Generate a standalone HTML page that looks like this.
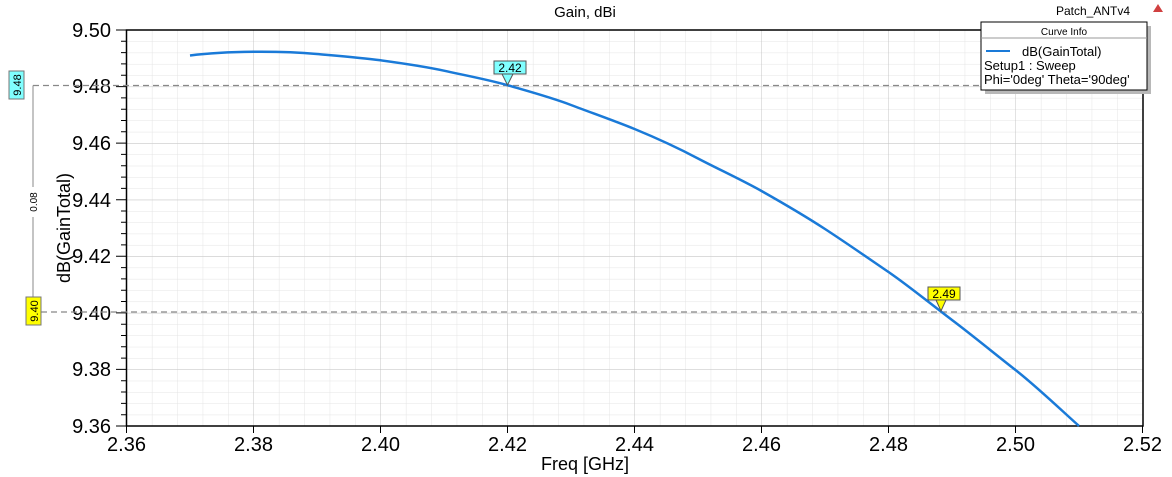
<!DOCTYPE html>
<html><head><meta charset="utf-8"><style>
body{margin:0;background:#fff;}
svg{display:block;font-family:"Liberation Sans",Arial,sans-serif;}
</style></head><body>
<svg width="1172" height="477" viewBox="0 0 1172 477">
<defs>
<pattern id="minor" patternUnits="userSpaceOnUse" x="126.5" y="30" width="25.4" height="11.314">
<path d="M0 0V11.314M0 0H25.4" stroke="#e4e4e4" stroke-width="1" fill="none"/>
</pattern>
<pattern id="major" patternUnits="userSpaceOnUse" x="126.5" y="30" width="127" height="56.571">
<path d="M0 0V56.571M0 0H127" stroke="#c4c4c4" stroke-width="1" fill="none"/>
</pattern>
</defs>
<rect x="126.5" y="30" width="1016.5" height="396" fill="url(#minor)"/>
<rect x="126.5" y="30" width="1016.5" height="396" fill="url(#major)"/>
<rect x="126.5" y="30" width="1016.5" height="396" fill="none" stroke="#000" stroke-width="1.5"/>
<g stroke="#000" stroke-width="1">
<path d="M116 30H126M116 86.6H126M116 143.1H126M116 199.7H126M116 256.3H126M116 312.9H126M116 369.4H126M116 426H126"/>
<path d="M121 41.3H126M121 52.6H126M121 63.9H126M121 75.3H126M121 97.9H126M121 109.2H126M121 120.5H126M121 131.8H126M121 154.4H126M121 165.7H126M121 177.1H126M121 188.4H126M121 211H126M121 222.3H126M121 233.6H126M121 244.9H126M121 267.6H126M121 278.9H126M121 290.2H126M121 301.5H126M121 324.2H126M121 335.5H126M121 346.8H126M121 358.1H126M121 380.7H126M121 392H126M121 403.4H126M121 414.7H126"/>
<path d="M126.5 426V433M253.5 426V433M380.5 426V433M507.5 426V433M634.5 426V433M761.5 426V433M888.5 426V433M1015.5 426V433M1142.5 426V433"/>
</g>
<g font-size="20" fill="#000" text-anchor="end">
<text x="111" y="37">9.50</text><text x="111" y="93">9.48</text><text x="111" y="150">9.46</text><text x="111" y="207">9.44</text><text x="111" y="263">9.42</text><text x="111" y="320">9.40</text><text x="111" y="376">9.38</text><text x="111" y="433">9.36</text>
</g>
<g font-size="20" fill="#000" text-anchor="middle">
<text x="126.5" y="451">2.36</text><text x="253.5" y="451">2.38</text><text x="380.5" y="451">2.40</text><text x="507.5" y="451">2.42</text><text x="634.5" y="451">2.44</text><text x="761.5" y="451">2.46</text><text x="888.5" y="451">2.48</text><text x="1015.5" y="451">2.50</text><text x="1142.5" y="451">2.52</text>
</g>
<text x="585" y="470" font-size="18" text-anchor="middle">Freq [GHz]</text>
<text transform="translate(70,228) rotate(-90)" font-size="18" text-anchor="middle">dB(GainTotal)</text>
<text x="585" y="17" font-size="15" text-anchor="middle">Gain, dBi</text>
<text x="1130" y="15" font-size="12" text-anchor="end">Patch_ANTv4</text>
<path d="M1158 4L1163 12H1153Z" fill="#d04040"/>
<g stroke="#888" stroke-width="1.2" stroke-dasharray="6,4">
<path d="M33 85.5H1143M41 312H1143"/>
</g>
<path d="M33 85.5V297" stroke="#888" stroke-width="1"/>
<rect x="26" y="187" width="14" height="30" fill="#fff"/>
<text transform="translate(37,202) rotate(-90)" font-size="10" text-anchor="middle">0.08</text>
<rect x="9" y="71" width="15" height="28" fill="#80ffff" stroke="#777"/>
<text transform="translate(21,85) rotate(-90)" font-size="11" text-anchor="middle">9.48</text>
<rect x="26" y="297" width="15" height="28" fill="#ffff00" stroke="#777"/>
<text transform="translate(38,311) rotate(-90)" font-size="11" text-anchor="middle">9.40</text>
<path d="M190 55.5 C210 53,230 52,253.5 51.8 S300 52.5,317 54 S360 57.5,380.5 60.3 S425 66.5,444 70.7 S490 80,507.5 85.2 S550 97,571 105 S615 121,634.5 129 S680 149,698 158.5 S742 180,761.5 191 S805 216,825 229 S868 258,888.5 272 S932 305,952 320 S995 354,1015.5 370 S1060 409,1079 426" fill="none" stroke="#1a7ad8" stroke-width="2.5"/>
<rect x="494" y="61" width="32" height="13" fill="#80ffff" stroke="#555"/>
<path d="M502 74L507.5 85L513 74Z" fill="#80ffff" stroke="#555"/>
<text x="510" y="72" font-size="12" text-anchor="middle">2.42</text>
<rect x="928" y="287" width="32" height="13" fill="#ffff00" stroke="#555"/>
<path d="M936 300L941 311L946 300Z" fill="#ffff00" stroke="#555"/>
<text x="944" y="298" font-size="12" text-anchor="middle">2.49</text>
<rect x="985" y="26" width="166" height="68" fill="#b8b8b8"/>
<rect x="981" y="22" width="166" height="68" fill="#fff" stroke="#000"/>
<path d="M981 38H1147" stroke="#999"/>
<text x="1064" y="35" font-size="10" text-anchor="middle">Curve Info</text>
<path d="M986 51H1010" stroke="#1a7ad8" stroke-width="2"/>
<text x="1022" y="56" font-size="13">dB(GainTotal)</text>
<text x="984" y="70" font-size="13">Setup1 : Sweep</text>
<text x="984" y="84" font-size="13">Phi='0deg' Theta='90deg'</text>
</svg>
</body></html>
